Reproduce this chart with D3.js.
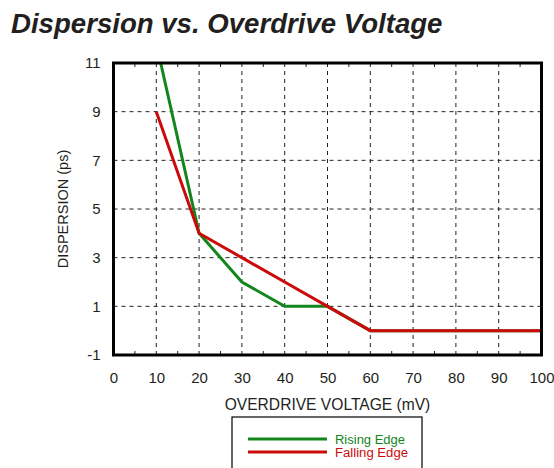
<!DOCTYPE html>
<html><head><meta charset="utf-8">
<script src="https://cdn.jsdelivr.net/npm/d3@7"></script>
<style>body{margin:0;background:#fff;} svg{display:block;}</style>
</head><body>
<svg id="c" width="554" height="468"></svg>
<script>
const titleText = "Dispersion vs. Overdrive Voltage";
const xLabel = "OVERDRIVE VOLTAGE (mV)";
const yLabel = "DISPERSION (ps)";
const xTicks = [0,10,20,30,40,50,60,70,80,90,100];
const yTicks = [-1,1,3,5,7,9,11];
const seriesNames = ["Rising Edge","Falling Edge"];
const seriesColors = ["#12861c","#cc0a0a"];
const risingX = [10,20,30,40,50,60,100];
const risingY = [11.8,4,2,1,1,0,0];
const fallingX = [10,20,30,40,50,60,100];
const fallingY = [9,4,3,2,1,0,0];

const svg = d3.select("#c");
const m = {l:113.5, r:541.5, t:63, b:355};
const x = d3.scaleLinear().domain([0,100]).range([m.l, m.r]);
const y = d3.scaleLinear().domain([-1,11]).range([m.b, m.t]);
const font = "'Liberation Sans', Arial, Helvetica, sans-serif";

svg.append("text").attr("x",11).attr("y",33).attr("font-family",font)
  .attr("font-size",27.6).attr("font-weight","bold").attr("font-style","italic")
  .attr("fill","#231f20").text(titleText);

svg.append("defs").append("clipPath").attr("id","pc").append("rect")
  .attr("x",m.l).attr("y",m.t).attr("width",m.r-m.l).attr("height",m.b-m.t);

// grid
const g = svg.append("g");
g.selectAll("line.vx").data(xTicks.filter(d=>d>0&&d<100)).join("line")
  .attr("x1",d=>x(d)).attr("x2",d=>x(d)).attr("y1",m.t).attr("y2",m.b)
  .attr("stroke","#222").attr("stroke-width",1).attr("stroke-dasharray","4,4");
g.selectAll("line.hy").data(yTicks.filter(d=>d>-1&&d<11)).join("line")
  .attr("x1",m.l).attr("x2",m.r).attr("y1",d=>y(d)).attr("y2",d=>y(d))
  .attr("stroke","#222").attr("stroke-width",1).attr("stroke-dasharray","4,4");

// minor ticks top/bottom
const minor = d3.range(5,100,10);
g.selectAll("line.mb").data(minor).join("line")
  .attr("x1",d=>x(d)).attr("x2",d=>x(d)).attr("y1",m.b).attr("y2",m.b-4)
  .attr("stroke","#222").attr("stroke-width",1);
g.selectAll("line.mt").data(minor).join("line")
  .attr("x1",d=>x(d)).attr("x2",d=>x(d)).attr("y1",m.t).attr("y2",m.t+4)
  .attr("stroke","#222").attr("stroke-width",1);

// lines
const line = d3.line().x(d=>x(d[0])).y(d=>y(d[1]));
const series = [d3.zip(risingX,risingY), d3.zip(fallingX,fallingY)];
svg.append("g").attr("clip-path","url(#pc)").selectAll("path").data(series).join("path")
  .attr("d",line).attr("fill","none").attr("stroke",(d,i)=>seriesColors[i])
  .attr("stroke-width",3).attr("stroke-linejoin","miter");

// frame
svg.append("rect").attr("x",m.l).attr("y",m.t).attr("width",m.r-m.l).attr("height",m.b-m.t)
  .attr("fill","none").attr("stroke","#000").attr("stroke-width",3);

// axes labels
const xa = d3.axisBottom(x).tickValues(xTicks).tickSize(0).tickPadding(17).tickFormat(d=>String(d));
const xg = svg.append("g").attr("transform",`translate(0,${m.b})`).call(xa);
xg.select(".domain").remove();
xg.selectAll("text").attr("font-family",font).attr("font-size",15).attr("fill","#231f20");
const ya = d3.axisLeft(y).tickValues(yTicks).tickSize(0).tickPadding(13).tickFormat(d=>String(d));
const yg = svg.append("g").attr("transform",`translate(${m.l},0)`).call(ya);
yg.select(".domain").remove();
yg.selectAll("text").attr("font-family",font).attr("font-size",15).attr("fill","#231f20");

svg.append("text").attr("x",327.5).attr("y",410).attr("text-anchor","middle")
  .attr("font-family",font).attr("font-size",15.6).attr("fill","#231f20").text(xLabel);
svg.append("text").attr("transform",`translate(68,${(m.t+m.b)/2}) rotate(-90)`)
  .attr("text-anchor","middle").attr("font-family",font).attr("font-size",14.5)
  .attr("fill","#231f20").text(yLabel);

// legend
const lg = svg.append("g");
lg.append("rect").attr("x",232).attr("y",417).attr("width",190).attr("height",60)
  .attr("fill","#fff").attr("stroke","#000").attr("stroke-width",1.2);
const legendW = [70, 73];
seriesNames.forEach((n,i)=>{
  const yy = 439 + i*13;
  lg.append("line").attr("x1",248).attr("x2",327).attr("y1",yy).attr("y2",yy)
    .attr("stroke",seriesColors[i]).attr("stroke-width",3);
  lg.append("text").attr("x",335).attr("y",yy+4.5).attr("font-family",font)
    .attr("font-size",12).attr("textLength",legendW[i]).attr("lengthAdjust","spacingAndGlyphs")
    .attr("fill",seriesColors[i]).text(n);
});
</script>
</body></html>
